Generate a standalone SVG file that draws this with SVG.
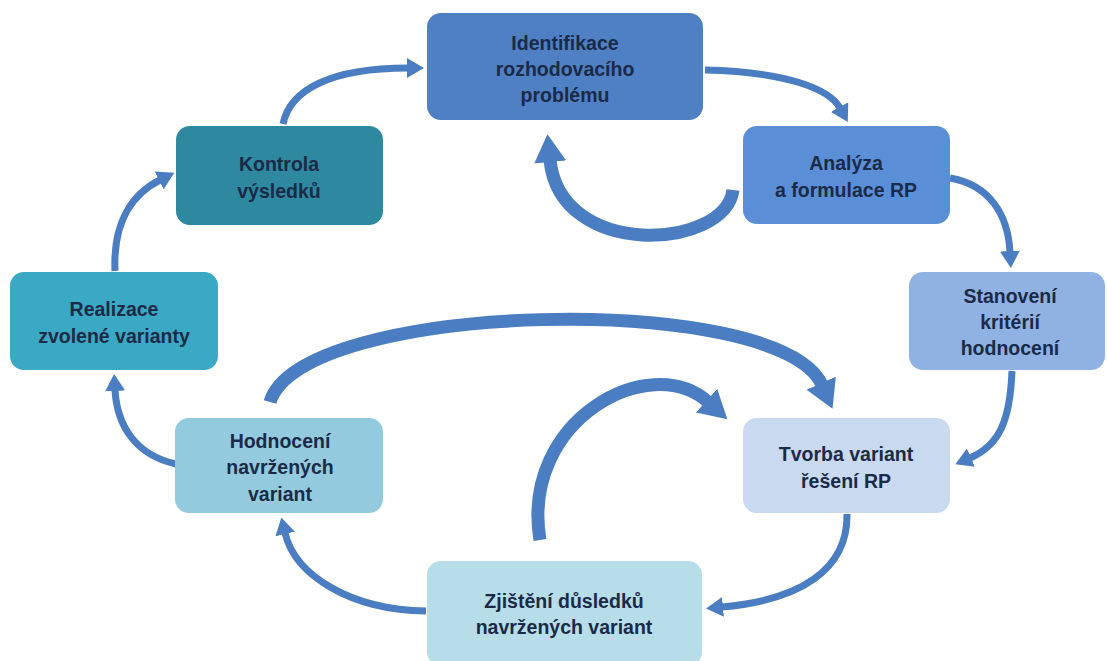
<svg xmlns="http://www.w3.org/2000/svg" width="1107" height="661" viewBox="0 0 1107 661">
  <style>
    .node-text { font-family: "Liberation Sans", Arial, sans-serif; font-weight: bold; font-size: 19.5px; fill: #1b2a47; text-anchor: middle; }
    .thin { fill: none; stroke: #4a7dc1; stroke-width: 7; marker-end: url(#ah); }
    .thick { fill: none; stroke: #4a7dc1; stroke-width: 13; marker-end: url(#ahBig); }
  </style>
  <defs>
    <marker id="ah" markerUnits="userSpaceOnUse" markerWidth="18" markerHeight="20" refX="1" refY="10" orient="auto">
      <path d="M0,0 L17,10 L0,20 z" fill="#4a7dc1"/>
    </marker>
    <marker id="ahBig" markerUnits="userSpaceOnUse" markerWidth="30" markerHeight="32" refX="2" refY="16" orient="auto">
      <path d="M0,0 L28,16 L0,32 z" fill="#4a7dc1"/>
    </marker>
  </defs>
  <rect width="1107" height="661" fill="#ffffff"/>

  <g id="connectors">
    <path class="thin" d="M 283 124 C 290 90 330 68 408 68"/>
    <path class="thin" d="M 705 70 C 790 72 830 90 840 108"/>
    <path class="thin" d="M 950 178 C 990 185 1008 215 1010 252"/>
    <path class="thin" d="M 1012 371 C 1010 420 1000 445 970 458"/>
    <path class="thin" d="M 847 514 C 848 570 800 600 722 607"/>
    <path class="thin" d="M 426 611 C 350 610 295 575 285 533"/>
    <path class="thin" d="M 176 464 C 135 455 117 425 115 390"/>
    <path class="thin" d="M 115 271 C 113 225 130 195 160 180"/>
    <path class="thick" d="M 733 190 C 725 250 560 260 550 160"/>
    <path class="thick" d="M 270 402 C 300 300 780 290 822 385"/>
    <path class="thick" d="M 540 540 C 520 420 650 350 708 402"/>
  </g>

  <g id="n1">
    <rect x="427" y="13" width="276" height="107" rx="14" fill="#4f80c4"/>
    <text class="node-text" x="565" y="50">Identifikace</text>
    <text class="node-text" x="565" y="76">rozhodovacího</text>
    <text class="node-text" x="565" y="102">problému</text>
  </g>
  <g id="n2">
    <rect x="743" y="126" width="207" height="98" rx="14" fill="#5a8fd8"/>
    <text class="node-text" x="846" y="170">Analýza</text>
    <text class="node-text" x="846" y="197">a formulace RP</text>
  </g>
  <g id="n3">
    <rect x="909" y="272" width="196" height="98" rx="14" fill="#8fb2e3"/>
    <text class="node-text" x="1010" y="303">Stanovení</text>
    <text class="node-text" x="1010" y="329">kritérií</text>
    <text class="node-text" x="1010" y="355">hodnocení</text>
  </g>
  <g id="n4">
    <rect x="743" y="418" width="207" height="95" rx="14" fill="#c9d9f0"/>
    <text class="node-text" x="846" y="461">Tvorba variant</text>
    <text class="node-text" x="846" y="488">řešení RP</text>
  </g>
  <g id="n5">
    <rect x="427" y="561" width="275" height="105" rx="14" fill="#b7dde9"/>
    <text class="node-text" x="564" y="608">Zjištění důsledků</text>
    <text class="node-text" x="564" y="634">navržených variant</text>
  </g>
  <g id="n6">
    <rect x="175" y="418" width="208" height="95" rx="14" fill="#93cadd"/>
    <text class="node-text" x="280" y="448">Hodnocení</text>
    <text class="node-text" x="280" y="474">navržených</text>
    <text class="node-text" x="280" y="501">variant</text>
  </g>
  <g id="n7">
    <rect x="10" y="272" width="208" height="98" rx="14" fill="#3ba8c4"/>
    <text class="node-text" x="114" y="316">Realizace</text>
    <text class="node-text" x="114" y="343">zvolené varianty</text>
  </g>
  <g id="n8">
    <rect x="176" y="126" width="207" height="99" rx="14" fill="#2e889f"/>
    <text class="node-text" x="279" y="171">Kontrola</text>
    <text class="node-text" x="279" y="198">výsledků</text>
  </g>
</svg>
